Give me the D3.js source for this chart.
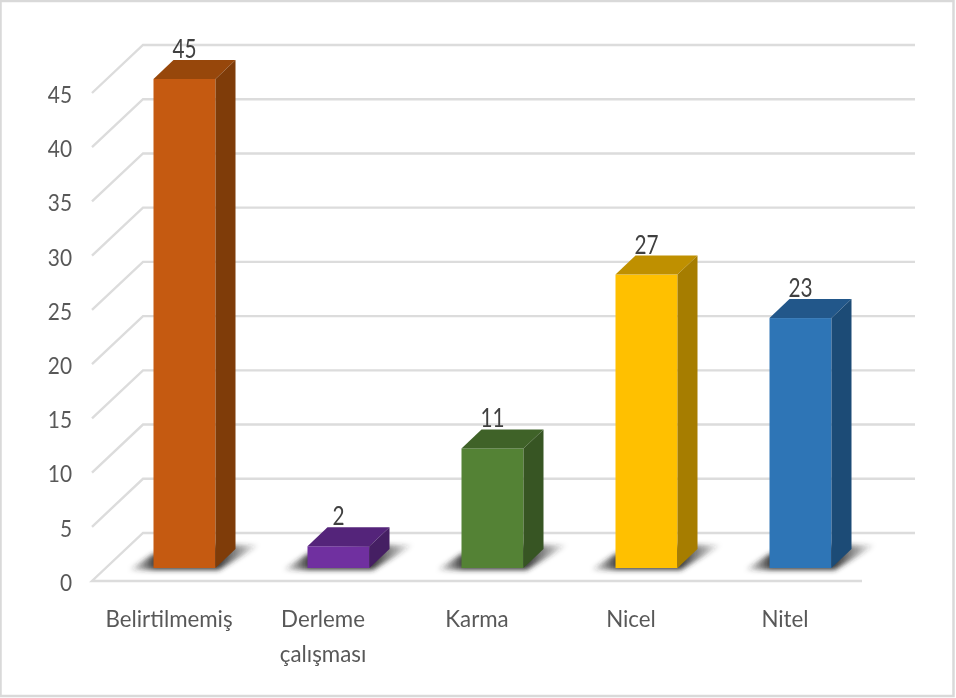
<!DOCTYPE html>
<html><head><meta charset="utf-8">
<script src="https://cdnjs.cloudflare.com/ajax/libs/d3/7.8.5/d3.min.js"></script>
<style>html,body{margin:0;padding:0;background:#fff}svg{display:block}
text{font-family:Lato,"Open Sans",sans-serif;fill:#595959}</style></head>
<body><svg id="c" width="956" height="698"></svg>
<script>
const categories=["Belirtilmemiş","Derleme çalışması","Karma","Nicel","Nitel"];
const values=[45,2,11,27,23];
const frontColors=["#C55A11","#7030A0","#548235","#FFC000","#2E75B6"];
const topColors=["#97470B","#54247A","#3F6228","#BF9000","#22578A"];
const sideColors=["#7F3C09","#451F63","#375523","#A67D00","#1C4B76"];
const ticks=[0,5,10,15,20,25,30,35,40,45];

const svg=d3.select("#c");
const depth={dx:20,dy:-19}, wall={dx:51,dy:-48};
const x=d3.scaleBand().domain(categories).range([92,862]);
const yFront=d3.scaleLinear().domain([0,45]).range([581,93]);
const yBar=d3.scaleLinear().domain([0,45]).range([568,79]);
const barW=62, barOff=x.bandwidth()/2-15.5;

const defs=svg.append("defs");
defs.append("filter").attr("id","soft").attr("x","-20%").attr("y","-40%").attr("width","140%").attr("height","180%")
 .append("feGaussianBlur").attr("stdDeviation",2.6);
defs.append("filter").attr("id","txt").attr("x","-10%").attr("y","-10%").attr("width","120%").attr("height","120%")
 .append("feGaussianBlur").attr("stdDeviation",0.4);
const g=defs.append("linearGradient").attr("id","sh");
[[0,0],[.2,.9],[.7,.9],[1,0]].forEach(([o,a])=>g.append("stop").attr("offset",o).attr("stop-color","#2a2a2a").attr("stop-opacity",a));

svg.append("rect").attr("x",0.5).attr("y",1).attr("width",953).attr("height",695)
 .attr("fill","#fff").attr("stroke","#D9D9D9").attr("stroke-width",2.5);

// walls
const grid=svg.append("g").attr("fill","none").attr("stroke","#DCDCDC").attr("stroke-width",2.4);
const line=d3.line();
grid.selectAll("path").data(ticks).join("path").attr("d",t=>{
  const yf=yFront(t);
  return line(t===0
    ?[[915,yf+wall.dy],[92+wall.dx,yf+wall.dy],[92,yf],[862,yf]]
    :[[92,yf],[92+wall.dx,yf+wall.dy],[915,yf+wall.dy]]);
});

// tick labels
const axis=d3.axisLeft(yFront).tickValues(ticks).tickSize(0).tickPadding(0).tickFormat(d3.format("d"));
const ya=svg.append("g").attr("transform","translate(72,0)").call(axis);
ya.select(".domain").remove();
ya.selectAll("text").style("font-size","24px").attr("dy","0.39em").attr("filter","url(#txt)")
  .attr("transform","scale(0.87,1)");

// category labels
const xa=svg.append("g").attr("transform","translate(0,600)").call(d3.axisBottom(x).tickSize(0).tickPadding(0));
xa.select(".domain").remove();
xa.selectAll("text").each(function(d){
  const t=d3.select(this).text(null).attr("y",0).attr("dy",null).style("font-size","24px").attr("filter","url(#txt)");
  d.split(" ").forEach((w,i)=>t.append("tspan").attr("x",0).attr("y",27+i*35).text(w));
  t.attr("text-anchor","middle").attr("transform","scale(0.93,1)");
});

// bars
const bars=svg.selectAll("g.bar").data(categories.map((c,i)=>({c,v:values[i],i}))).join("g").attr("class","bar");
bars.append("polygon").attr("fill","url(#sh)").attr("filter","url(#soft)").attr("points",d=>{
  const x0=x(d.c)+barOff,x1=x0+barW,y0=yBar(0);
  return [[x0-25,y0+2],[x1+3,y0+2],[x1+44,y0-23],[x1+4,y0-23],[x0,y0-14]].join(" ");
});
bars.append("rect").attr("x",d=>x(d.c)+barOff).attr("y",d=>yBar(d.v)).attr("width",barW)
  .attr("height",d=>yBar(0)-yBar(d.v)).attr("fill",d=>frontColors[d.i]);
bars.append("polygon").attr("fill",d=>topColors[d.i]).attr("points",d=>{
  const x0=x(d.c)+barOff,x1=x0+barW,t=yBar(d.v);
  return [[x0,t],[x1,t],[x1+depth.dx,t+depth.dy],[x0+depth.dx,t+depth.dy]].join(" ");
});
bars.append("polygon").attr("fill",d=>sideColors[d.i]).attr("points",d=>{
  const x1=x(d.c)+barOff+barW,t=yBar(d.v),b=yBar(0);
  return [[x1,t],[x1+depth.dx,t+depth.dy],[x1+depth.dx,b+depth.dy],[x1,b]].join(" ");
});
bars.append("text")
  .attr("transform",d=>`translate(${x(d.c)+barOff+barW/2},${yBar(d.v)+depth.dy-2}) scale(0.8,1)`)
  .attr("text-anchor","middle").style("font-size","26px").style("fill","#404040").attr("filter","url(#txt)").text(d=>d.v);
</script></body></html>
